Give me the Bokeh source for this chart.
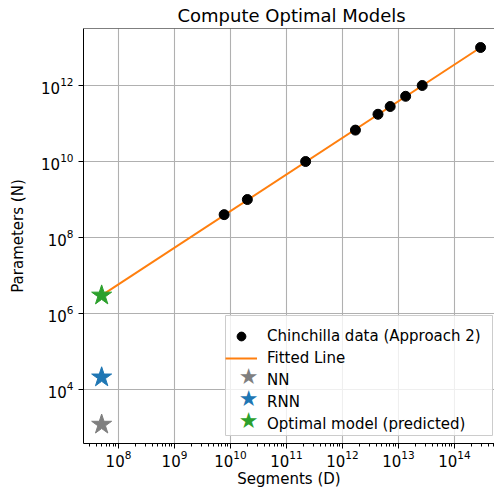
from bokeh.plotting import figure
from bokeh.models import (FixedTicker, LogTickFormatter, Legend, LegendItem, Span, Range1d,
                          Label, BoxAnnotation)
from bokeh.embed import file_html
from bokeh.resources import INLINE

# Chinchilla data (Approach 2)
tokens = [7.7e9, 20.0e9, 219.5e9, 1.7e12, 4.3e12, 7.1e12, 13.4e12, 26.5e12, 292.0e12]
params = [400e6, 1e9, 10e9, 67e9, 175e9, 280e9, 520e9, 1e12, 10e12]

# Fitted line end points
fit_x = [5e7, 292.0e12]
fit_y = [3.0e6, 10e12]

# Models
nn_x, nn_y = [5e7], [1.2e3]
rnn_x, rnn_y = [5e7], [2.1e4]
opt_x, opt_y = [5e7], [3.0e6]

x_major = [1e8, 1e9, 1e10, 1e11, 1e12, 1e13, 1e14]
x_minor = [k * 10.0 ** e for e in range(7, 15) for k in range(2, 10)]
y_major = [1e4, 1e6, 1e8, 1e10, 1e12]

FONT = "DejaVu Sans"
GRAY, BLUE, GREEN = "#7f7f7f", "#1f77b4", "#2ca02c"

p = figure(width=494, height=496, x_axis_type="log", y_axis_type="log",
           output_backend="svg", toolbar_location=None,
           x_range=Range1d(10 ** 7.375, 10 ** 14.714),
           y_range=Range1d(10 ** 2.58, 10 ** 13.5),
           min_border_left=83, min_border_right=0, min_border_top=28, min_border_bottom=53)

p.title.text = "Compute Optimal Models"
p.title.text_font = FONT
p.title.text_font_size = "18px"
p.title.text_font_style = "normal"
p.title.align = "left"
p.title.offset = 94
p.title.standoff = 5
p.title.text_color = "#000000"

p.outline_line_color = None
p.add_layout(Span(location=10 ** 13.5, dimension="width", line_color="black", line_width=1))

p.xaxis.ticker = FixedTicker(ticks=x_major, minor_ticks=x_minor)
p.yaxis.ticker = FixedTicker(ticks=y_major, minor_ticks=[])
p.xaxis.formatter = LogTickFormatter()
p.yaxis.formatter = LogTickFormatter()

for ax in (p.xaxis, p.yaxis):
    ax.axis_line_color = "black"
    ax.axis_line_width = 1
    ax.major_tick_line_color = "black"
    ax.major_tick_out = 5
    ax.major_tick_in = 0
    ax.minor_tick_line_color = "black"
    ax.minor_tick_out = 3
    ax.minor_tick_in = 0
    ax.major_label_text_font = FONT
    ax.major_label_text_font_size = "15px"
    ax.major_label_text_color = "#000000"
    ax.axis_label_text_font = FONT
    ax.axis_label_text_font_size = "15px"
    ax.axis_label_text_font_style = "normal"
    ax.axis_label_text_color = "#000000"

p.xaxis.axis_label = "Segments (D)"
p.yaxis.axis_label = "Parameters (N)"
p.xaxis.major_label_standoff = 1
p.xaxis.axis_label_standoff = 0
p.yaxis.axis_label_standoff = 11

p.xgrid.ticker = FixedTicker(ticks=x_major)
p.ygrid.ticker = FixedTicker(ticks=y_major)
for g in (p.xgrid, p.ygrid):
    g.grid_line_color = "#b0b0b0"
    g.grid_line_width = 1.1

line_r = p.line(fit_x, fit_y, line_color="#ff7f0e", line_width=2)
dots_r = p.scatter(tokens, params, marker="circle", size=10, fill_color="black", line_color="black")
p.scatter(nn_x, nn_y, marker="star", size=21, fill_color=GRAY, line_color=GRAY)
p.scatter(rnn_x, rnn_y, marker="star", size=21, fill_color=BLUE, line_color=BLUE)
p.scatter(opt_x, opt_y, marker="star", size=21, fill_color=GREEN, line_color=GREEN)
# blank legend-only renderer (the star symbols of the legend are drawn as text below)
blank_r = p.scatter(x=[], y=[], marker="star", fill_alpha=0, line_alpha=0)

# legend: bottom-left corner in screen px from the frame's bottom-left
LEG_X, LEG_Y, LEG_W, PAD, ROW, GW = 142, 8, 267, 5, 22, 32
labels = ["Chinchilla data (Approach 2)", "Fitted Line", "NN", "RNN", "Optimal model (predicted)"]
renderers = [dots_r, line_r, blank_r, blank_r, blank_r]
top = LEG_Y + 2 * PAD + ROW * len(labels)

# legend frame (drawn first)
p.add_layout(BoxAnnotation(left=LEG_X, right=LEG_X + LEG_W, bottom=LEG_Y, top=top,
                           left_units="screen", right_units="screen",
                           bottom_units="screen", top_units="screen",
                           fill_color="white", fill_alpha=0.8,
                           line_color="#cccccc", line_width=1, line_alpha=1))

# star symbols of the legend
for i, col in [(2, GRAY), (3, BLUE), (4, GREEN)]:
    cy = top - PAD - ROW * i - ROW / 2 - 1
    p.add_layout(Label(x=LEG_X + PAD + GW / 2 + 2, y=cy, x_units="screen", y_units="screen",
                       text="★", text_color=col, text_font=FONT, text_font_size="22px",
                       text_align="center", text_baseline="middle"))

legend = Legend(items=[LegendItem(label=l, renderers=[r]) for l, r in zip(labels, renderers)],
                location=(LEG_X, LEG_Y))
legend.padding = PAD
legend.spacing = 0
legend.label_height = ROW
legend.glyph_height = ROW
legend.glyph_width = GW
legend.label_standoff = 10
legend.label_text_font = FONT
legend.label_text_font_size = "15px"
legend.label_text_color = "#000000"
legend.border_line_color = None
legend.background_fill_alpha = 0.0
p.add_layout(legend)

open("out.html", "w").write(file_html(p, INLINE))
